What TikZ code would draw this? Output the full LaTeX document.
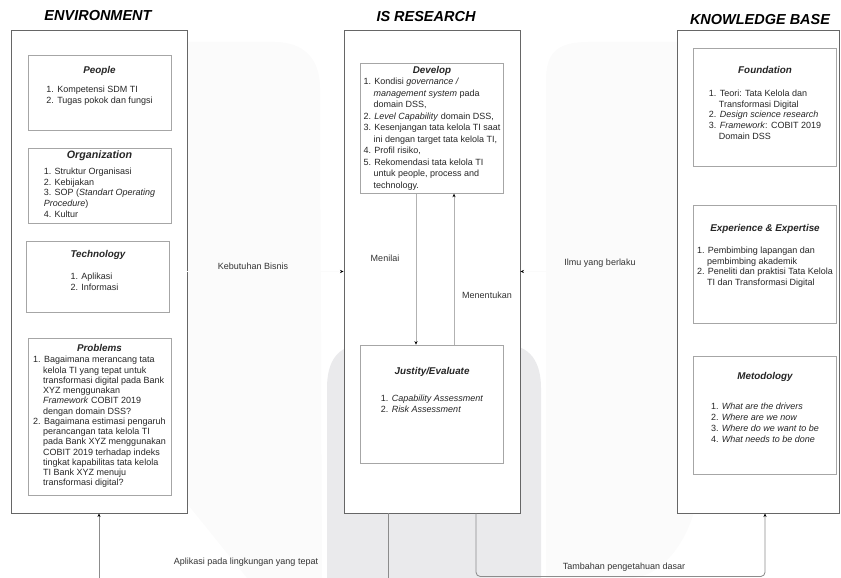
\documentclass[tikz,border=0pt]{standalone}
\usepackage{fontspec}
\setmainfont{Liberation Sans}
\usetikzlibrary{arrows.meta}

\definecolor{wmlight}{RGB}{251,251,251}
\definecolor{wmdark}{RGB}{234,234,236}

\newcommand{\hd}[1]{{\fontsize{7}{8}\selectfont\bfseries\itshape #1}}
\newcommand{\hdrow}[1]{\multicolumn{1}{@{}c@{}}{\hd{#1}}}
\newcommand{\ind}{\hphantom{1.\ }}

\begin{document}
\begin{tikzpicture}[
    x=0.025cm, y=-0.025cm,
    title/.style={font=\fontsize{10.3}{12}\selectfont\bfseries\itshape},
    panel/.style={
        draw=black!60,
        line width=0.6pt,
        fill=white,
        minimum width=4.4cm,
        minimum height=12.075cm,
        inner sep=0pt
    },
    card/.style={
        draw=black!35,
        line width=0.5pt,
        fill=white,
        minimum width=3.575cm,
        minimum height=2.95cm,
        inner sep=1pt,
        text=black!85,
        font=\fontsize{6.4}{7.6}\selectfont
    },
    lbl/.style={text=black!80, font=\fontsize{6.4}{7.6}\selectfont},
    tip/.style={-{Stealth[length=2.5pt,width=2.2pt,black]}},
    link/.style={tip, draw=black!30, line width=0.5pt},
    back/.style={tip, draw=black!45, line width=0.6pt}
]
\useasboundingbox (0,0) rectangle (841,578);

% faint background watermark
\fill[wmlight] (160,470) -- (160,42) -- (275,42)
    .. controls (303,42) and (320,58) .. (320,88) -- (322,578) -- (247,578) -- cycle;
\fill[wmlight] (546,578) -- (546,80) .. controls (546,52) and (558,42) .. (588,42)
    -- (700,42) -- (700,470) .. controls (700,530) and (665,578) .. (630,578) -- cycle;
\fill[wmdark] (327,578) -- (327,388) .. controls (327,362) and (337,345) .. (362,345)
    -- (506,345) .. controls (530,345) and (541,362) .. (541,388) -- (541,578) -- cycle;

% titles
\node[title] (envtitle) at (98,16) {ENVIRONMENT};
\node[title] (istitle) at (426,17) {IS RESEARCH};
\node[title] (kbtitle) at (760,20) {KNOWLEDGE BASE};

% panels
\node[panel] (env) at (99,271.5) {};
\node[panel] (isr) at (432,271.5) {};
\node[panel, minimum width=4.05cm] (kb) at (758,271.5) {};

% environment
\node[card, minimum height=1.875cm] (people) at (99.5,92.5) {\begin{tabular}{@{}l@{}}
    \hdrow{People}\\[6pt]
    1. Kompetensi SDM TI\\
    2. Tugas pokok dan fungsi\\[9pt]
\end{tabular}};

\node[card, minimum height=1.875cm] (org) at (99.5,185.5) {\begin{tabular}{@{}l@{}}
    \hdrow{\fontsize{7.6}{8}\selectfont Organization}\\[4pt]
    1. Struktur Organisasi\\
    2. Kebijakan\\
    3. SOP (\textit{Standart Operating}\\
    \textit{Procedure})\\
    4. Kultur
\end{tabular}};

\node[card, minimum height=1.775cm] (tech) at (98,276.5) {\begin{tabular}{@{}l@{}}
    \hdrow{Technology}\\[8pt]
    1. Aplikasi\\
    2. Informasi\\[7pt]
\end{tabular}};

\node[card, minimum height=3.925cm, font=\fontsize{6.4}{7.3}\selectfont] (problems) at (99.5,416.5) {\begin{tabular}{@{}l@{}}
    \hdrow{Problems}\\[1pt]
    1. Bagaimana merancang tata\\
    \ind kelola TI yang tepat untuk\\
    \ind transformasi digital pada Bank\\
    \ind XYZ menggunakan\\
    \ind \textit{Framework} COBIT 2019\\
    \ind dengan domain DSS?\\
    2. Bagaimana estimasi pengaruh\\
    \ind perancangan tata kelola TI\\
    \ind pada Bank XYZ menggunakan\\
    \ind COBIT 2019 terhadap indeks\\
    \ind tingkat kapabilitas tata kelola\\
    \ind TI Bank XYZ menuju\\
    \ind transformasi digital?
\end{tabular}};

% is research
\node[card, minimum height=2.975cm, font=\fontsize{6.4}{8.2}\selectfont] (develop) at (432,128.5) {\begin{tabular}{@{}l@{}}
    \hdrow{Develop}\\
    1. Kondisi \textit{governance /}\\
    \ind \textit{management system} pada\\
    \ind domain DSS,\\
    2. \textit{Level Capability} domain DSS,\\
    3. Kesenjangan tata kelola TI saat\\
    \ind ini dengan target tata kelola TI,\\
    4. Profil risiko,\\
    5. Rekomendasi tata kelola TI\\
    \ind untuk people, process and\\
    \ind technology.
\end{tabular}};

\node[card] (justify) at (432,404) {\begin{tabular}{@{}l@{}}
    \hdrow{Justity/Evaluate}\\[12pt]
    1. \textit{Capability Assessment}\\
    2. \textit{Risk Assessment}\\[18pt]
\end{tabular}};

% knowledge base
\node[card] (found) at (765,107) {\begin{tabular}{@{}l@{}}
    \hdrow{Foundation}\\[9pt]
    1. Teori: Tata Kelola dan\\
    \ind Transformasi Digital\\
    2. \textit{Design science research}\\
    3. \textit{Framework}: COBIT 2019\\
    \ind Domain DSS\\[4pt]
\end{tabular}};

\node[card] (expert) at (765,264) {\begin{tabular}{@{}l@{}}
    \hdrow{Experience \& Expertise}\\[8pt]
    1. Pembimbing lapangan dan\\
    \ind pembimbing akademik\\
    2. Peneliti dan praktisi Tata Kelola\\
    \ind TI dan Transformasi Digital\\[11pt]
\end{tabular}};

\node[card] (method) at (765,415) {\begin{tabular}{@{}l@{}}
    \hdrow{Metodology}\\[14pt]
    1. \textit{What are the drivers}\\
    2. \textit{Where are we now}\\
    3. \textit{Where do we want to be}\\
    4. \textit{What needs to be done}\\[9pt]
\end{tabular}};

% connectors
\draw[link, draw=wmlight] (env.east) -- (isr.west);
\draw[link, draw=wmlight] (kb.west) -- (isr.east);
\draw[link] ([xshift=-0.4cm]develop.south) -- ([xshift=-0.4cm]justify.north);
\draw[link] ([xshift=0.55cm]justify.north) -- ([xshift=0.55cm]develop.south);
\draw[back] ([xshift=-1.1cm]isr.south) -- ++(0,80) -| (env.south);
\draw[back, rounded corners=3pt] ([xshift=1.1cm]isr.south) -- ++(0,63) -| ([xshift=0.175cm]kb.south);

% labels
\node[lbl] (needs) at (253,266) {Kebutuhan Bisnis};
\node[lbl] (assess) at (385,258) {Menilai};
\node[lbl] (refine) at (487,295) {Menentukan};
\node[lbl] (theory) at (600,263) {Ilmu yang berlaku};
\node[lbl] (apply) at (246,562) {Aplikasi pada lingkungan yang tepat};
\node[lbl] (additions) at (624,567) {Tambahan pengetahuan dasar};

\end{tikzpicture}
\end{document}
